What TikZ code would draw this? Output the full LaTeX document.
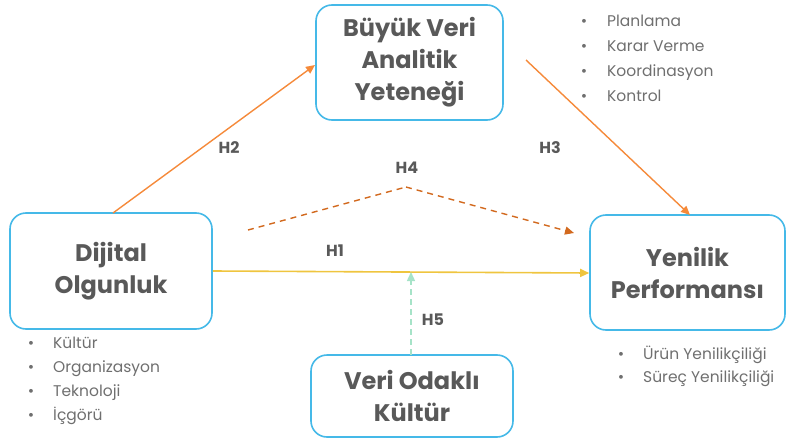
\documentclass[tikz,border=0pt]{standalone}
\usepackage{fontspec}
\setmainfont{Poppins}
\usetikzlibrary{arrows.meta}
\definecolor{boxblue}{HTML}{45B9E8}
\definecolor{txtgray}{HTML}{595959}
\definecolor{bulgray}{HTML}{6F6F6F}
\definecolor{arrorange}{HTML}{F58A3A}
\definecolor{dashorange}{HTML}{D2691E}
\definecolor{arryellow}{HTML}{EFC53F}
\definecolor{mint}{HTML}{A6E3C8}
\tikzset{
  mainbox/.style={draw=boxblue, line width=1.6pt, rounded corners=16pt, fill=white,
    align=center, text=txtgray, font=\bfseries\fontsize{24}{32}\selectfont, inner sep=0pt},
  hlabel/.style={text=txtgray, font=\bfseries\fontsize{16}{18}\selectfont, inner sep=0pt},
  bullettext/.style={text=bulgray, font=\fontsize{15.5}{18}\selectfont, anchor=base west, inner sep=0pt},
  bulletdot/.style={text=bulgray, font=\fontsize{15.5}{18}\selectfont, anchor=base, inner sep=0pt},
  tip/.style={-{Triangle[length=9pt,width=8pt]}}
}
\begin{document}
\begin{tikzpicture}[x=1pt,y=-1pt]
\useasboundingbox (0,0) rectangle (790,439);
% boxes
\node[mainbox, minimum width=202pt, minimum height=116pt] (dij) at (111,271) {Dijital\\Olgunluk};
\node[mainbox, minimum width=187pt, minimum height=115pt] (buy) at (409.5,62.5) {Büyük Veri\\Analitik\\Yeteneği};
\node[mainbox, minimum width=195pt, minimum height=115pt] (yen) at (687.5,272.5) {Yenilik\\Performansı};
\node[mainbox, minimum width=202pt, minimum height=82pt] (ver) at (412,396) {Veri Odaklı\\Kültür};
% coordinates
\coordinate (h2s) at (113,213);
\coordinate (h2e) at (315,65);
\coordinate (h3s) at (526,60);
\coordinate (h3e) at (690,215);
\coordinate (h4s) at (248,230);
\coordinate (h4m) at (406,187);
\coordinate (h4e) at (574,233);
\coordinate (h5s) at (411,355);
\coordinate (h5e) at (411,272);
% connectors
\draw[arryellow, line width=1.6pt, tip] (dij.east |- 0,271) -- (yen.west |- 0,273);
\draw[arrorange, line width=1.4pt, tip] (h2s) -- (h2e);
\draw[arrorange, line width=1.4pt, tip] (h3s) -- (h3e);
\draw[dashorange, line width=1.4pt, dash pattern=on 6pt off 5pt] (h4s) -- (h4m);
\draw[dashorange, line width=1.4pt, dash pattern=on 6pt off 5pt, tip] (h4m) -- (h4e);
\draw[mint, line width=1.4pt, dash pattern=on 6pt off 4pt, tip] (h5s) -- (h5e);
% labels
\node[hlabel] (l1) at (335,251) {H1};
\node[hlabel] (l2) at (229,148) {H2};
\node[hlabel] (l3) at (550,148) {H3};
\node[hlabel] (l4) at (407,168) {H4};
\node[hlabel] (l5) at (433,320) {H5};
% bullet lists
\foreach \t [count=\i] in {Kültür,Organizasyon,Teknoloji,İçgörü}{
  \node[bulletdot] (bd\i) at (31,{348+24*(\i-1)}) {•};
  \node[bullettext] (bt\i) at (53,{348+24*(\i-1)}) {\t};
}
\foreach \t [count=\i] in {Planlama,Karar Verme,Koordinasyon,Kontrol}{
  \node[bulletdot] (td\i) at (584,{26+25*(\i-1)}) {•};
  \node[bullettext] (tt\i) at (607,{26+25*(\i-1)}) {\t};
}
\foreach \t [count=\i] in {Ürün Yenilikçiliği,Süreç Yenilikçiliği}{
  \node[bulletdot] (rd\i) at (621,{359+23*(\i-1)}) {•};
  \node[bullettext] (rt\i) at (643,{359+23*(\i-1)}) {\t};
}
\end{tikzpicture}
\end{document}
